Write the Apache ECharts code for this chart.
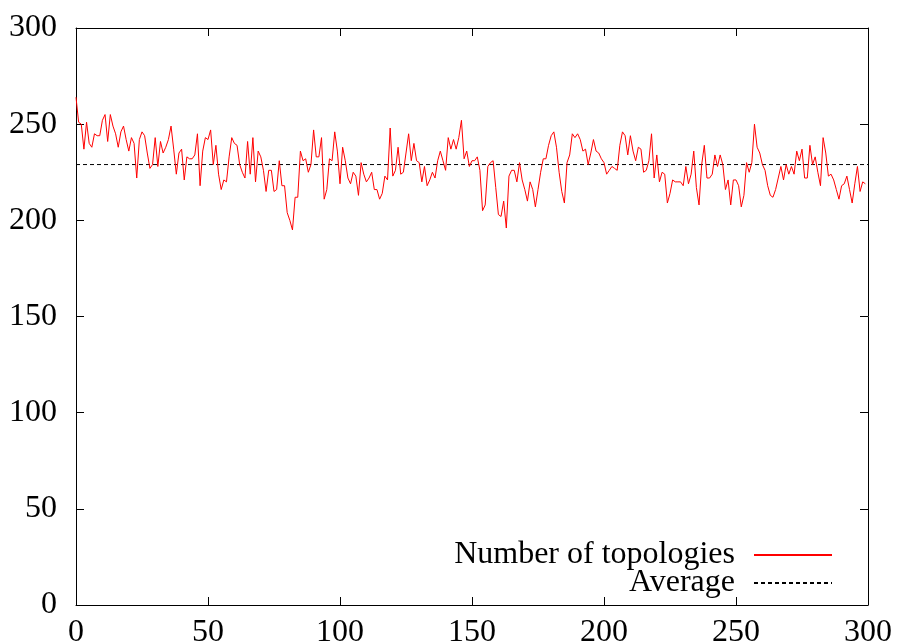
<!DOCTYPE html>
<html>
<head>
<meta charset="utf-8">
<script src="https://cdn.jsdelivr.net/npm/echarts@6/dist/echarts.min.js"></script>
<style>html,body{margin:0;padding:0;background:#fff}#c{width:900px;height:644px}</style>
</head>
<body>
<div id="c"></div>
<script>
// Data
var topologies = [
264,251,250,237,251,240,238,245,244,244,252,255,241,255,249,245,238,246,249,242,
236,243,240,222,242,246,244,235,227,229,243,228,241,235,238,242,249,237,224,235,
237,221,233,232,232,234,245,218,236,243,242,247,229,239,224,216,221,220,233,243,
240,239,229,225,222,241,224,243,220,236,233,226,215,226,226,215,216,231,218,218,
204,200,195,212,212,236,231,232,225,229,247,233,233,243,211,216,232,231,246,236,
219,238,231,222,219,225,223,213,230,224,220,222,225,216,216,211,214,223,221,248,
223,226,238,224,225,235,245,231,240,231,230,220,228,218,221,225,222,231,236,231,
226,243,237,242,237,243,252,232,236,228,231,231,233,226,205,208,228,230,231,217,
203,202,210,196,223,226,226,220,230,221,216,210,220,216,207,216,225,232,232,239,
244,246,238,225,215,209,230,234,245,243,245,242,236,237,229,235,242,236,235,232,
230,224,226,228,227,226,239,246,244,234,244,236,231,238,237,225,226,231,245,222,
234,220,225,224,209,214,221,220,220,220,218,228,219,224,236,217,208,229,239,222,
222,224,234,228,234,229,216,221,208,221,221,218,207,213,230,225,230,250,238,235,
229,226,218,213,212,216,222,228,221,229,224,228,224,236,231,237,222,222,239,229,
233,225,218,243,235,223,224,221,216,211,218,219,223,216,209,219,228,215,220,219
];
var averageValue = 229;
var seriesNames = ['Number of topologies', 'Average'];
var xTicks = [0, 300, 50];   // min, max, interval
var yTicks = [0, 300, 50];

var lineData = topologies.map(function (v, i) { return [i, v]; });
var avgData = [[xTicks[0], averageValue], [xTicks[1], averageValue]];

var font = 'Liberation Serif';
var axisCommon = function (show) {
  return {
    axisLine: { show: true, onZero: false, lineStyle: { color: '#000', width: 1 } },
    axisTick: { show: true, inside: true, length: 8, lineStyle: { color: '#000', width: 1 } },
    splitLine: { show: false },
    axisLabel: { show: show, color: '#000', fontFamily: font, fontSize: 32 }
  };
};

var xb = Object.assign({ type: 'value', position: 'bottom', min: xTicks[0], max: xTicks[1], interval: xTicks[2] }, axisCommon(true));
xb.axisLabel.margin = 12;
var xt = Object.assign({ type: 'value', position: 'top', min: xTicks[0], max: xTicks[1], interval: xTicks[2] }, axisCommon(false));
var yl = Object.assign({ type: 'value', position: 'left', min: yTicks[0], max: yTicks[1], interval: yTicks[2] }, axisCommon(true));
yl.axisLabel.margin = 19;
var yr = Object.assign({ type: 'value', position: 'right', min: yTicks[0], max: yTicks[1], interval: yTicks[2] }, axisCommon(false));

var chart = echarts.init(document.getElementById('c'), null, { renderer: 'canvas' });
chart.setOption({
  animation: false,
  backgroundColor: '#fff',
  grid: { left: 76, right: 32, top: 28, bottom: 39, containLabel: false, outerBoundsMode: 'none' },
  xAxis: [xb, xt],
  yAxis: [yl, yr],
  legend: {
    orient: 'vertical',
    right: 62,
    top: 534,
    align: 'right',
    itemWidth: 78,
    itemHeight: 10,
    itemGap: -4,
    selectedMode: false,
    itemStyle: { opacity: 0 },
    textStyle: { fontFamily: font, fontSize: 32, color: '#000', padding: [0, 14, 0, 0] },
    data: [{ name: seriesNames[0] }, { name: seriesNames[1] }]
  },
  series: [
    {
      name: seriesNames[0], type: 'line', data: lineData, showSymbol: false, symbol: 'none',
      lineStyle: { color: '#ff0000', width: 1 }, itemStyle: { color: '#ff0000' }, z: 3
    },
    {
      name: seriesNames[1], type: 'line', data: avgData, showSymbol: false, symbol: 'none',
      lineStyle: { color: '#000', width: 1, type: [4, 3] }, itemStyle: { color: '#000' }, z: 2
    }
  ]
});
</script>
</body>
</html>
